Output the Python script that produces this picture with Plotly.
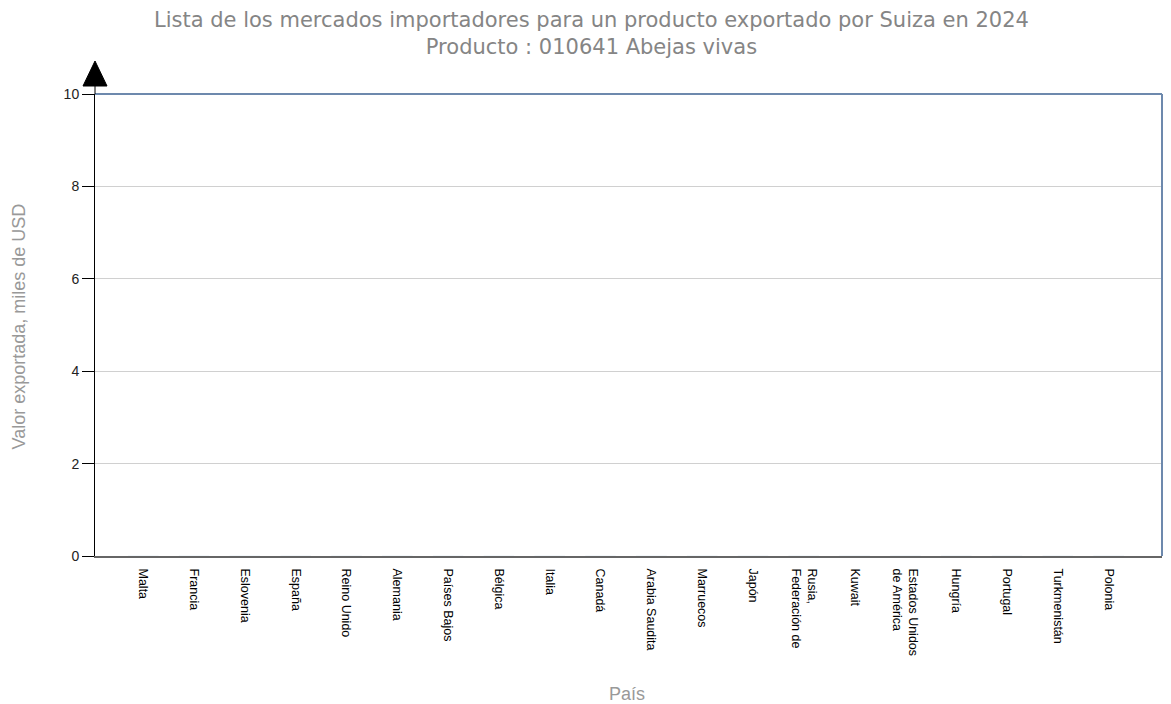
import plotly.graph_objects as go

# Mercados importadores (orden del gráfico original)
paises = [
    "Malta", "Francia", "Eslovenia", "España", "Reino Unido", "Alemania",
    "Países Bajos", "Bélgica", "Italia", "Canadá", "Arabia Saudita",
    "Marruecos", "Japón", "Rusia,<br>Federación de", "Kuwait",
    "Estados Unidos<br>de América", "Hungría", "Portugal", "Turkmenistán",
    "Polonia",
]
# valores exportados (miles de USD) - todos redondean a 0
valores = [0, 0, 0, 0, 0, 0, 0, 0, 0, 0, 0, 0, 0, 0, 0, 0, 0, 0, 0, 0]
y_ticks = [0, 2, 4, 6, 8, 10]

titulo = ("Lista de los mercados importadores para un producto exportado por Suiza en 2024"
          "<br>Producto : 010641 Abejas vivas")

fig = go.Figure()
fig.add_trace(go.Bar(x=paises, y=valores, marker_color="#4f81bd", width=0.6))

# la página html añade ~8px de margen, por eso el tamaño es algo menor
fig.update_layout(
    width=1163, height=696,
    margin=dict(l=87, r=9, t=86, b=148),
    paper_bgcolor="white", plot_bgcolor="white",
    showlegend=False,
)

fig.update_xaxes(
    type="category", range=[-0.95, 20.05], automargin=False,
    tickangle=90, tickfont=dict(family="Liberation Sans", size=12.5, color="black"),
    showline=True, linecolor="#666666", linewidth=2,
    showgrid=False, ticks="", ticklabelstandoff=8,
)
fig.update_yaxes(
    range=[0, 10], tickvals=y_ticks, automargin=False,
    tickfont=dict(family="Liberation Sans", size=14, color="#222222"),
    showline=True, linecolor="black", linewidth=1,
    ticks="outside", ticklen=12, tickcolor="black",
    showgrid=True, gridcolor="#d0d0d0", gridwidth=1, zeroline=False,
)

# títulos como anotaciones para fijar su posición
fig.add_annotation(text=titulo, xref="paper", yref="paper", x=0.465, y=1.132,
                   xanchor="center", yanchor="middle", showarrow=False,
                   font=dict(family="DejaVu Sans", size=21, color="#858585"))
fig.add_annotation(text="Valor exportada, miles de USD", xref="paper", yref="paper",
                   x=-0.0717, y=0.498, textangle=-90, xanchor="center", yanchor="middle",
                   showarrow=False, font=dict(family="Liberation Sans", size=18, color="#999999"))
fig.add_annotation(text="País", xref="paper", yref="paper", x=0.499, y=-0.2987,
                   xanchor="center", yanchor="middle", showarrow=False,
                   font=dict(family="Liberation Sans", size=18, color="#999999"))

# borde superior y derecho del área de trazado
fig.add_shape(type="line", xref="paper", yref="paper", x0=0, x1=1, y0=1, y1=1,
              line=dict(color="#6d89ad", width=2))
fig.add_shape(type="line", xref="paper", yref="paper", x0=1, x1=1, y0=0, y1=1,
              line=dict(color="#6d89ad", width=2))
# flecha del eje Y
fig.add_shape(type="path", xref="paper", yref="paper", xsizemode="pixel", ysizemode="pixel",
              xanchor=0, yanchor=1, path="M 0,0 L 0,9 M -12,8 L 12,8 L 0,33 Z",
              fillcolor="black", line=dict(color="black", width=1))

fig.write_html("out.html")
